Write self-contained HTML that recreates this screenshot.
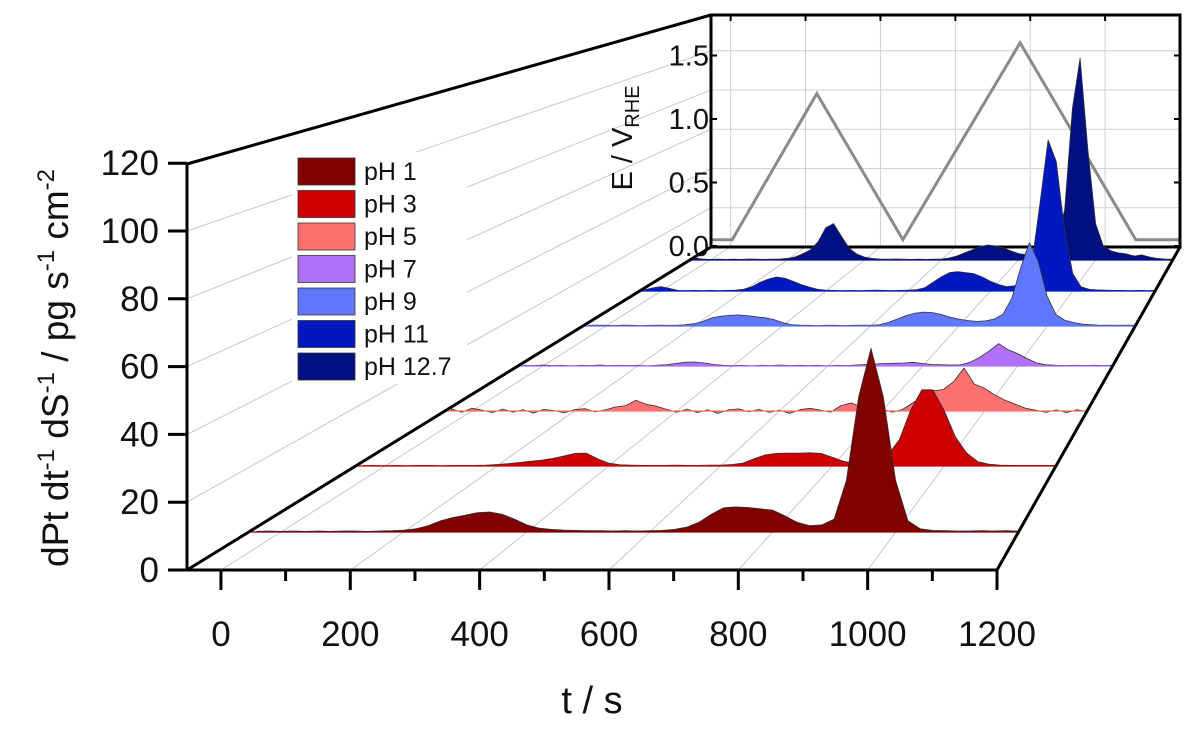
<!DOCTYPE html>
<html><head><meta charset="utf-8"><style>
html,body{margin:0;padding:0;background:#fff}
svg{display:block;font-family:"Liberation Sans",Arial,sans-serif}
</style></head><body>
<svg id="chart" width="1193" height="738" viewBox="0 0 1193 738" xmlns="http://www.w3.org/2000/svg"></svg>
<script>
// ---- data ----
const times = [];
for (let t = -40; t <= 1200; t += 20) times.push(t);
const seriesNames = ["pH 1","pH 3","pH 5","pH 7","pH 9","pH 11","pH 12.7"];
const seriesColors = ["#800000","#cc0000","#ff7070","#b070f8","#6078ff","#0018c0","#001080"];
const ph1 = [0.2,0.3,0.2,0.3,0.2,0.3,0.2,0.3,0.3,0.2, 0.3,0.4,0.6,1.0,2.0,3.5,4.5,5.2,6.0,6.2, 5.5,4.0,2.2,1.2,0.8,0.6,0.5,0.4,0.4,0.3, 0.4,0.3,0.4,0.5,0.8,1.5,3.0,5.5,7.5,7.8, 7.6,7.2,6.8,5.0,3.0,2.0,2.2,4.0,16,42, 57,42,16,3.5,1.0,0.5,0.4,0.3,0.3,0.4, 0.3,0.4,0.3];
const ph3 = [0.1,0.2,0.1,0.2,0.1,0.2,0.2,0.1,0.2,0.2, 0.2,0.3,0.5,0.8,1.2,1.6,2.0,2.6,3.4,4.3, 4.4,2.5,1.0,0.4,0.3,0.2,0.2,0.2,0.3,0.2, 0.2,0.3,0.3,0.5,1.0,2.5,3.8,4.3,4.4,4.4, 4.5,4.3,3.0,1.6,1.0,1.0,1.5,4,9,19, 26,26,19,10,4.5,1.5,0.6,0.3,0.2,0.2, 0.2,0.2,0.2];
const ph5 = [0.8,-0.5,1.0,0.3,-0.6,0.7,-0.4,0.5,-0.8,0.6, 0.2,-0.7,0.5,0.9,-0.3,0.4,1.5,2.0,4.0,2.5, 1.8,0.6,-0.5,0.7,-0.6,0.5,-0.9,0.4,0.8,-0.3, 0.6,-0.5,0.3,-0.9,0.5,1.0,0.3,-0.4,2.0,3.0, 1.5,0.5,0.8,-0.5,0.6,3.0,5.5,7.5,8.0,11, 16,10,8.5,6.0,4.0,2.5,1.0,0.3,-0.5,0.4, -0.6,0.5,-0.3];
const ph7 = [0.3,0.2,0.4,0.2,0.3,0.1,0.3,0.2,0.4,0.2, 0.3,0.2,0.3,0.1,0.3,0.5,1.0,1.5,1.6,1.2, 0.6,0.3,0.2,0.3,0.1,0.3,0.2,0.4,0.2,0.3, 0.2,0.3,0.1,0.3,0.2,0.4,0.6,0.8,1.0,1.1, 1.2,1.5,1.0,0.6,0.5,0.4,0.5,1.5,3.5,6.0, 9.0,6.5,5.0,3.0,1.2,0.5,0.3,0.2,0.3,0.2, 0.3,0.2,0.3];
const ph9 = [0.3,0.4,0.3,0.2,0.4,0.3,0.2,0.3,0.4,0.3, 0.3,0.5,1.0,2.0,3.5,4.2,4.6,4.8,4.5,4.0, 3.6,2.8,1.5,0.6,0.4,0.3,0.2,0.3,0.3,0.2, 0.3,0.4,0.3,0.5,1.5,3.0,4.5,5.5,6.0,5.8, 5.0,3.8,3.0,2.4,2.0,2.2,3.0,5.0,12,25, 36,28,13,5,2.5,1.5,0.8,0.5,0.3,0.4, 0.3,0.4,0.3];
const ph11 = [0.5,1.5,2.0,1.2,0.3,0.2,0.3,0.2,0.3,0.2, 0.3,0.4,0.8,2.0,4.0,5.5,6.5,6.0,4.5,3.0, 1.8,0.8,0.4,0.3,0.2,0.3,0.2,0.3,0.4,0.3, 0.2,0.3,0.4,0.6,1.5,4.0,6.5,8.5,9.0,8.5, 8.0,6.5,4.5,3.0,2.0,2.5,4,12,40,70, 60,28,8,2,0.8,0.5,0.4,0.3,0.3,0.2, 0.3,0.2,0.3];
const ph127 = [1.0,0.5,0.3,0.4,0.3,0.4,0.3,0.5,0.4,0.3, 0.4,0.5,0.8,1.5,3.0,5.0,9,16,18,12, 6,3,1.5,0.8,0.5,0.4,0.5,0.4,0.3,0.4, 0.3,0.4,0.5,1.0,2.0,3.5,5.0,6.5,7.4,7.0, 6.0,4.5,3.2,2.5,2.5,3.0,4.5,9,25,75, 100,55,18,7,4.5,3.5,3.0,2.0,2.5,1.5, 0.8,0.5,0.4];
const seriesValues = [ph1, ph3, ph5, ph7, ph9, ph11, ph127];
const potT = [-52, 4, 230, 460, 773, 1082, 1200];
const potE = [0.05, 0.05, 1.2, 0.05, 1.6, 0.05, 0.05];
const yTicks = [0,20,40,60,80,100,120];
const xTicks = [0,200,400,600,800,1000,1200];
const eTicks = [0.0,0.5,1.0,1.5];

// ---- layout / projection ----
const NS = "http://www.w3.org/2000/svg";
const svg = document.getElementById("chart");
const FY = 570, BY = 247, FL = 187, FR = 997, BL = 711, BR = 1180;
const T0 = -52.5, T1 = 1200, UNIT = 3.39;
const rowY = [532, 466, 411, 366, 326, 291, 260];
function edges(y){ const f = (FY - y)/(FY - BY); return [FL + (BL-FL)*f, FR + (BR-FR)*f]; }
function xAt(t, y){ const [L,R] = edges(y); return L + (t - T0)/(T1 - T0)*(R - L); }
function scaleAt(y){ const [L,R] = edges(y); return UNIT*(R-L)/(FR-FL); }
const backScale = scaleAt(BY);
function eY(e){ return 246 - 127*e; }

function mk(tag, attrs, parent){ const el = document.createElementNS(NS, tag); for (const k in attrs) el.setAttribute(k, attrs[k]); (parent||svg).appendChild(el); return el; }

for (let v = 20; v < 120; v += 20) {
  const l = mk("line", {x1:FL, y1:FY-UNIT*v, x2:BL, y2:BY-backScale*v, stroke:"#c8c8c8", "stroke-width":1});
  
  
}
for (const t of xTicks) {
  const l = mk("line", {x1:xAt(t,FY), y1:FY, x2:xAt(t,BY), y2:BY, stroke:"#c8c8c8", "stroke-width":1});
  
  
}

// legend
const lg = mk("g", {});


mk("rect", {x:292, y:152, width:175, height:232, fill:"#fff"}, lg);
seriesNames.forEach((n,i) => {
  const y0 = 158 + i*32.5;
  const r = mk("rect", {x:298, y:y0, width:57, height:27, fill:seriesColors[i], stroke:"#333", "stroke-width":0.8}, lg);
  
  
  const tx = mk("text", {x:364, y:y0+22, "font-size":25, fill:"#111"}, lg);
  tx.textContent = n;
  
  
});

// inset
const ig = mk("g", {});


mk("rect", {x:BL, y:15, width:BR-BL, height:BY-15, fill:"#fff"}, ig);
for (const t of xTicks) {
  const x = xAt(t, BY);
  if (x < BR-4) {
    const l = mk("line", {x1:x, y1:15, x2:x, y2:BY, stroke:"#d0d0d0", "stroke-width":1}, ig);
    
    
    mk("line", {x1:x, y1:15, x2:x, y2:21, stroke:"#000", "stroke-width":2}, ig);
  }
}
for (let v = 20; v < 120; v += 20) {
  const y = BY - backScale*v;
  const l = mk("line", {x1:BL, y1:y, x2:BR, y2:y, stroke:"#d0d0d0", "stroke-width":1}, ig);
  
  
}
eTicks.forEach(e => {
  mk("line", {x1:BR-6, y1:eY(e), x2:BR, y2:eY(e), stroke:"#000", "stroke-width":2}, ig);
  mk("line", {x1:BL, y1:eY(e), x2:BL+6, y2:eY(e), stroke:"#000", "stroke-width":2}, ig);
  const tx = mk("text", {x:BL-2, y:eY(e)+10, "font-size":29, "text-anchor":"end", fill:"#111"}, ig);
  tx.textContent = e.toFixed(1);
  
  
});
const potPts = potT.map((t,i) => xAt(t,BY).toFixed(1)+","+eY(potE[i]).toFixed(1)).join(" ");
const pot = mk("polyline", {points:potPts, fill:"none", stroke:"#8a8a8a", "stroke-width":3}, ig);


mk("rect", {x:BL, y:15, width:BR-BL, height:BY-15, fill:"none", stroke:"#000", "stroke-width":3}, ig);
const et = mk("text", {x:0, y:0, "font-size":29, "text-anchor":"middle", fill:"#111", transform:"translate(632,138) rotate(-90)"}, ig);
et.innerHTML = 'E / V<tspan font-size="20" dy="7">RHE</tspan>';



// series, back to front
for (let i = seriesValues.length - 1; i >= 0; i--) {
  const y = rowY[i], s = scaleAt(y), vals = seriesValues[i];
  let pts = xAt(times[0],y).toFixed(1)+","+y+" ";
  times.forEach((t,k) => { pts += xAt(t,y).toFixed(1)+","+(y - s*vals[k]).toFixed(1)+" "; });
  pts += xAt(times[times.length-1],y).toFixed(1)+","+y;
  const p = mk("polygon", {points:pts, fill:seriesColors[i], stroke:"#333", "stroke-width":0.8, "stroke-linejoin":"round"});
  
  
  const bl = mk("line", {x1:xAt(-52.5,y), y1:y, x2:xAt(1200,y), y2:y, stroke:seriesColors[i], "stroke-width":1.2});
  
  
}

// axes frame
const ax = mk("g", {stroke:"#000", "stroke-width":3, fill:"none"});


mk("line", {x1:FL, y1:FY+1.5, x2:FL, y2:164}, ax);
mk("line", {x1:FL, y1:164, x2:BL, y2:15}, ax);
mk("line", {x1:FL, y1:FY, x2:FR, y2:FY}, ax);
mk("line", {x1:FL, y1:FY, x2:BL, y2:BY}, ax);
mk("line", {x1:FR, y1:FY, x2:BR, y2:BY}, ax);

yTicks.forEach(v => {
  const y = FY - UNIT*v;
  mk("line", {x1:168, y1:y, x2:FL, y2:y, stroke:"#000", "stroke-width":3});
  const tx = mk("text", {x:159, y:y+12, "font-size":35, "text-anchor":"end", fill:"#111"});
  tx.textContent = v;
  
  
});
for (let t = 0; t <= 1200; t += 100) {
  const x = xAt(t, FY), major = t % 200 === 0;
  mk("line", {x1:x, y1:FY, x2:x, y2:FY + (major?20:11), stroke:"#000", "stroke-width":3});
}
xTicks.forEach(t => {
  const tx = mk("text", {x:xAt(t,FY), y:646, "font-size":35, "text-anchor":"middle", fill:"#111"});
  tx.textContent = t;
  
  
});
const xt = mk("text", {x:592, y:713, "font-size":38, "text-anchor":"middle", fill:"#111"});
xt.textContent = "t / s";


const yt = mk("text", {x:0, y:0, "font-size":37, "text-anchor":"middle", fill:"#111", transform:"translate(68,368) rotate(-90)"});
yt.innerHTML = 'dPt dt<tspan font-size="24" dy="-14">-1</tspan><tspan dy="14"> dS</tspan><tspan font-size="24" dy="-14">-1</tspan><tspan dy="14"> / pg s</tspan><tspan font-size="24" dy="-14">-1</tspan><tspan dy="14"> cm</tspan><tspan font-size="24" dy="-14">-2</tspan>';


</script>
</body></html>
